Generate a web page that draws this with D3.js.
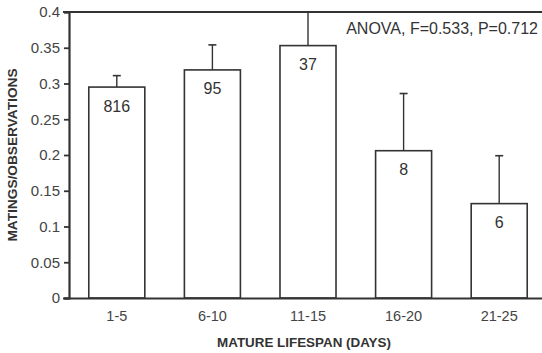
<!DOCTYPE html>
<html><head><meta charset="utf-8">
<script src="https://cdn.jsdelivr.net/npm/d3@7"></script>
<style>body{margin:0;background:#fff;}svg{display:block;font-family:"Liberation Sans",Arial,sans-serif;}</style>
</head><body><svg id="c" width="542" height="353"></svg>
<script>
const categories = ["1-5","6-10","11-15","16-20","21-25"];
const values = [0.295, 0.319, 0.353, 0.206, 0.132];
const errorTops = [0.311, 0.354, 0.400, 0.286, 0.199];
const sampleSizes = ["816","95","37","8","6"];
const yTicks = [0,0.05,0.1,0.15,0.2,0.25,0.3,0.35,0.4];
const yTickLabels = ["0","0.05","0.1","0.15","0.2","0.25","0.3","0.35","0.4"];
const annotation = "ANOVA, F=0.533, P=0.712";
const xTitle = "MATURE LIFESPAN (DAYS)";
const yTitle = "MATINGS/OBSERVATIONS";

const svg = d3.select("#c");
const x = d3.scaleBand().domain(categories).range([69, 547]).paddingInner(0.414).paddingOuter(0.207);
const y = d3.scaleLinear().domain([0, 0.4]).range([298, 12]);
const ink = "#333";
const FF = "Liberation Sans, Arial, sans-serif";

// bars
svg.selectAll("rect.bar").data(categories).join("rect")
  .attr("x", d => x(d)).attr("y", (d,i) => y(values[i]))
  .attr("width", x.bandwidth()).attr("height", (d,i) => y(0) - y(values[i]))
  .attr("fill", "#fff").attr("stroke", ink).attr("stroke-width", 1.6);

// error bars
const capW = 8;
svg.selectAll("line.err").data(categories).join("line")
  .attr("x1", d => x(d) + x.bandwidth()/2).attr("x2", d => x(d) + x.bandwidth()/2)
  .attr("y1", (d,i) => y(values[i])).attr("y2", (d,i) => y(errorTops[i]))
  .attr("stroke", ink).attr("stroke-width", 1.4);
svg.selectAll("line.cap").data(categories).join("line")
  .attr("x1", d => x(d) + x.bandwidth()/2 - capW/2).attr("x2", d => x(d) + x.bandwidth()/2 + capW/2)
  .attr("y1", (d,i) => y(errorTops[i])).attr("y2", (d,i) => y(errorTops[i]))
  .attr("stroke", ink).attr("stroke-width", 1.6);

// n labels
svg.selectAll("text.n").data(categories).join("text")
  .attr("x", d => x(d) + x.bandwidth()/2).attr("y", (d,i) => y(values[i]) + 24.5)
  .attr("text-anchor", "middle").attr("font-size", 16).attr("fill", "#333")
  .text((d,i) => sampleSizes[i]);

// y axis
const yAxis = d3.axisLeft(y).tickValues(yTicks).tickFormat((d,i) => yTickLabels[i]).tickSize(5).tickPadding(4);
const gy = svg.append("g").attr("transform", "translate(69,0)").call(yAxis);
gy.select(".domain").attr("stroke", ink).attr("stroke-width", 2.2);
gy.selectAll(".tick line").attr("stroke", ink).attr("stroke-width", 1.8);
gy.selectAll(".tick text").attr("font-size", 15).attr("fill", "#444").attr("font-family", FF);

// x axis
const xAxis = d3.axisBottom(x).tickSize(0).tickPadding(13);
const gx = svg.append("g").attr("transform", "translate(0,298)").call(xAxis);
gx.select(".domain").attr("stroke", ink).attr("stroke-width", 2.2).attr("d", "M63,0.5H542");
gx.selectAll(".tick text").attr("font-size", 14.5).attr("fill", "#444").attr("font-family", FF);

// top border
svg.append("line").attr("x1", 63).attr("x2", 542).attr("y1", y(0.4)).attr("y2", y(0.4))
  .attr("stroke", ink).attr("stroke-width", 2.2);

// annotation
svg.append("text").attr("x", 538).attr("y", 34).attr("text-anchor", "end")
  .attr("font-size", 16).attr("fill", "#333").text(annotation);

// titles
svg.append("text").attr("x", 304).attr("y", 347).attr("text-anchor", "middle")
  .attr("font-size", 13.4).attr("font-weight", "bold").attr("fill", "#333").text(xTitle);
svg.append("text").attr("transform", "translate(17,155) rotate(-90)").attr("text-anchor", "middle")
  .attr("font-size", 13.7).attr("font-weight", "bold").attr("fill", "#333").text(yTitle);
</script></body></html>
